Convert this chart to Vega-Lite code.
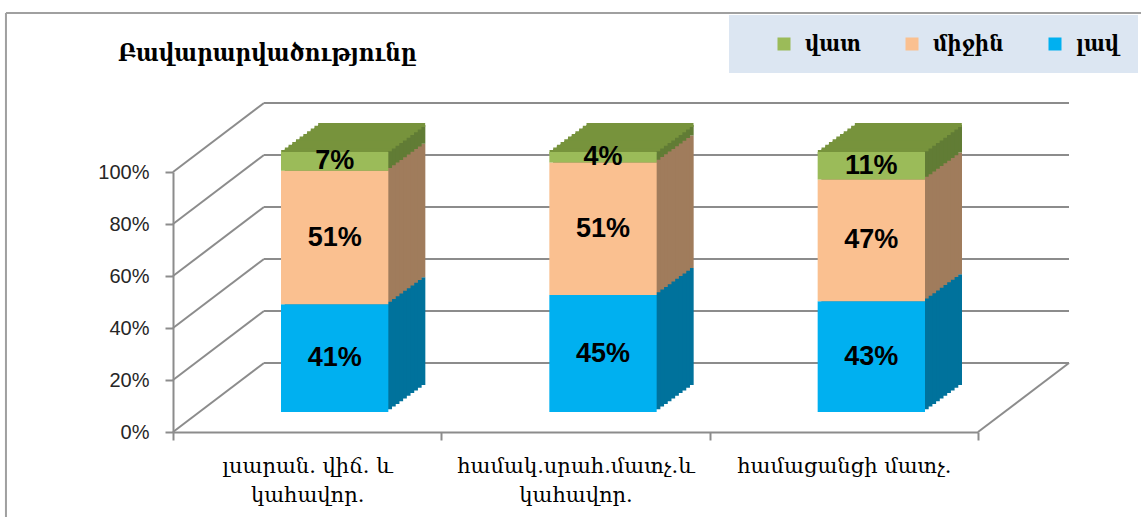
{
  "$schema": "https://vega.github.io/schema/vega-lite/v6.json",
  "width": 805,
  "height": 260,
  "autosize": {"type": "none"},
  "padding": {"left": 173, "top": 172, "right": 163, "bottom": 85},
  "background": "white",
  "config": {"view": {"stroke": null}, "axis": {"grid": false}},
  "datasets": {
    "main": [
      {"category": "լսարան. վիճ. և կահավոր.", "segment": "լավ", "value": 0.414},
      {"category": "լսարան. վիճ. և կահավոր.", "segment": "միջին", "value": 0.514},
      {"category": "լսարան. վիճ. և կահավոր.", "segment": "վատ", "value": 0.072},
      {"category": "համակ.սրահ.մատչ.և կահավոր.", "segment": "լավ", "value": 0.45},
      {"category": "համակ.սրահ.մատչ.և կահավոր.", "segment": "միջին", "value": 0.51},
      {"category": "համակ.սրահ.մատչ.և կահավոր.", "segment": "վատ", "value": 0.04},
      {"category": "համացանցի մատչ.", "segment": "լավ", "value": 0.426},
      {"category": "համացանցի մատչ.", "segment": "միջին", "value": 0.468},
      {"category": "համացանցի մատչ.", "segment": "վատ", "value": 0.106}
    ],
    "levels": [{"v": 0}, {"v": 0.2}, {"v": 0.4}, {"v": 0.6}, {"v": 0.8}, {"v": 1}]
  },
  "resolve": {"scale": {"x": "independent"}, "axis": {"x": "independent"}},
  "layer": [
    {
      "layer": [
        {
          "data": {"name": "levels"},
          "mark": {"type": "rule", "color": "#8c8c8c", "strokeWidth": 2, "xOffset": 91, "x2Offset": 91, "yOffset": -69},
          "encoding": {
            "x": {"datum": 0, "type": "quantitative", "scale": {"domain": [0, 1]}, "axis": null},
            "x2": {"datum": 1},
            "y": {"field": "v", "type": "quantitative"}
          }
        },
        {
          "data": {"name": "levels"},
          "mark": {"type": "rule", "color": "#8c8c8c", "strokeWidth": 2, "x2Offset": 91, "y2Offset": -69},
          "encoding": {
            "x": {"datum": 0, "type": "quantitative", "scale": {"domain": [0, 1]}, "axis": null},
            "x2": {"datum": 0},
            "y": {"field": "v", "type": "quantitative"},
            "y2": {"field": "v"}
          }
        },
        {
          "data": {"values": [{}]},
          "mark": {"type": "rule", "color": "#8c8c8c", "strokeWidth": 2, "x2Offset": 91, "y2Offset": -69},
          "encoding": {
            "x": {"datum": 1, "type": "quantitative", "scale": {"domain": [0, 1]}, "axis": null},
            "x2": {"datum": 1},
            "y": {"datum": 0, "type": "quantitative"},
            "y2": {"datum": 0}
          }
        },
        {
          "data": {"values": [{}]},
          "mark": {"type": "rule", "color": "#a0a0a0", "strokeWidth": 2},
          "encoding": {
            "x": {"datum": -0.2075, "type": "quantitative", "scale": {"domain": [0, 1]}, "axis": null},
            "y": {"datum": 1.6115, "type": "quantitative"},
            "y2": {"datum": -0.4}
          }
        },
        {
          "data": {"values": [{}]},
          "mark": {"type": "rule", "color": "#a0a0a0", "strokeWidth": 2},
          "encoding": {
            "x": {"datum": -0.2075, "type": "quantitative", "scale": {"domain": [0, 1]}, "axis": null},
            "x2": {"datum": 1.3},
            "y": {"datum": 1.6115, "type": "quantitative"}
          }
        },
        {
          "data": {"values": [{}]},
          "mark": {"type": "text", "text": "Բավարարվածությունը", "font": "DejaVu Serif Condensed, DejaVu Serif", "fontSize": 24, "fontWeight": "bold", "align": "left", "baseline": "alphabetic", "color": "#000000"},
          "encoding": {
            "x": {"datum": -0.0683, "type": "quantitative", "scale": {"domain": [0, 1]}, "axis": null},
            "y": {"datum": 1.427, "type": "quantitative"}
          }
        }
      ]
    },
    {
      "data": {"name": "main"},
      "layer": [
        {"mark": {"type": "bar", "width": {"band": 0.4}, "xOffset": 64.5, "yOffset": -47, "y2Offset": -47},
         "encoding": {"x": {"field": "category", "type": "nominal", "sort": null, "scale": {"paddingInner": 0, "paddingOuter": 0}},
           "y": {"field": "value", "type": "quantitative", "stack": "zero"},
           "detail": {"field": "segment"}, "order": {"field": "segment", "sort": "ascending"},
           "color": {"condition": [{"test": "datum.segment === 'լավ'", "value": "#00729C"}, {"test": "datum.segment === 'միջին'", "value": "#A07C5C"}], "value": "#617C35"}}},
        {"mark": {"type": "bar", "width": {"band": 0.4}, "xOffset": 60.8, "yOffset": -44.3, "y2Offset": -44.3},
         "encoding": {"x": {"field": "category", "type": "nominal", "sort": null},
           "y": {"field": "value", "type": "quantitative", "stack": "zero"},
           "detail": {"field": "segment"}, "order": {"field": "segment", "sort": "ascending"},
           "color": {"condition": [{"test": "datum.segment === 'լավ'", "value": "#00729C"}, {"test": "datum.segment === 'միջին'", "value": "#A07C5C"}], "value": "#617C35"}}},
        {"mark": {"type": "bar", "width": {"band": 0.4}, "xOffset": 57.1, "yOffset": -41.6, "y2Offset": -41.6},
         "encoding": {"x": {"field": "category", "type": "nominal", "sort": null},
           "y": {"field": "value", "type": "quantitative", "stack": "zero"},
           "detail": {"field": "segment"}, "order": {"field": "segment", "sort": "ascending"},
           "color": {"condition": [{"test": "datum.segment === 'լավ'", "value": "#00729C"}, {"test": "datum.segment === 'միջին'", "value": "#A07C5C"}], "value": "#617C35"}}},
        {"mark": {"type": "bar", "width": {"band": 0.4}, "xOffset": 53.4, "yOffset": -38.9, "y2Offset": -38.9},
         "encoding": {"x": {"field": "category", "type": "nominal", "sort": null},
           "y": {"field": "value", "type": "quantitative", "stack": "zero"},
           "detail": {"field": "segment"}, "order": {"field": "segment", "sort": "ascending"},
           "color": {"condition": [{"test": "datum.segment === 'լավ'", "value": "#00729C"}, {"test": "datum.segment === 'միջին'", "value": "#A07C5C"}], "value": "#617C35"}}},
        {"mark": {"type": "bar", "width": {"band": 0.4}, "xOffset": 49.7, "yOffset": -36.2, "y2Offset": -36.2},
         "encoding": {"x": {"field": "category", "type": "nominal", "sort": null},
           "y": {"field": "value", "type": "quantitative", "stack": "zero"},
           "detail": {"field": "segment"}, "order": {"field": "segment", "sort": "ascending"},
           "color": {"condition": [{"test": "datum.segment === 'լավ'", "value": "#00729C"}, {"test": "datum.segment === 'միջին'", "value": "#A07C5C"}], "value": "#617C35"}}},
        {"mark": {"type": "bar", "width": {"band": 0.4}, "xOffset": 46, "yOffset": -33.5, "y2Offset": -33.5},
         "encoding": {"x": {"field": "category", "type": "nominal", "sort": null},
           "y": {"field": "value", "type": "quantitative", "stack": "zero"},
           "detail": {"field": "segment"}, "order": {"field": "segment", "sort": "ascending"},
           "color": {"condition": [{"test": "datum.segment === 'լավ'", "value": "#00729C"}, {"test": "datum.segment === 'միջին'", "value": "#A07C5C"}], "value": "#617C35"}}},
        {"mark": {"type": "bar", "width": {"band": 0.4}, "xOffset": 42.3, "yOffset": -30.8, "y2Offset": -30.8},
         "encoding": {"x": {"field": "category", "type": "nominal", "sort": null},
           "y": {"field": "value", "type": "quantitative", "stack": "zero"},
           "detail": {"field": "segment"}, "order": {"field": "segment", "sort": "ascending"},
           "color": {"condition": [{"test": "datum.segment === 'լավ'", "value": "#00729C"}, {"test": "datum.segment === 'միջին'", "value": "#A07C5C"}], "value": "#617C35"}}},
        {"mark": {"type": "bar", "width": {"band": 0.4}, "xOffset": 38.6, "yOffset": -28.1, "y2Offset": -28.1},
         "encoding": {"x": {"field": "category", "type": "nominal", "sort": null},
           "y": {"field": "value", "type": "quantitative", "stack": "zero"},
           "detail": {"field": "segment"}, "order": {"field": "segment", "sort": "ascending"},
           "color": {"condition": [{"test": "datum.segment === 'լավ'", "value": "#00729C"}, {"test": "datum.segment === 'միջին'", "value": "#A07C5C"}], "value": "#617C35"}}},
        {"mark": {"type": "bar", "width": {"band": 0.4}, "xOffset": 34.9, "yOffset": -25.4, "y2Offset": -25.4},
         "encoding": {"x": {"field": "category", "type": "nominal", "sort": null},
           "y": {"field": "value", "type": "quantitative", "stack": "zero"},
           "detail": {"field": "segment"}, "order": {"field": "segment", "sort": "ascending"},
           "color": {"condition": [{"test": "datum.segment === 'լավ'", "value": "#00729C"}, {"test": "datum.segment === 'միջին'", "value": "#A07C5C"}], "value": "#617C35"}}},
        {"mark": {"type": "bar", "width": {"band": 0.4}, "xOffset": 31.2, "yOffset": -22.7, "y2Offset": -22.7},
         "encoding": {"x": {"field": "category", "type": "nominal", "sort": null},
           "y": {"field": "value", "type": "quantitative", "stack": "zero"},
           "detail": {"field": "segment"}, "order": {"field": "segment", "sort": "ascending"},
           "color": {"condition": [{"test": "datum.segment === 'լավ'", "value": "#00729C"}, {"test": "datum.segment === 'միջին'", "value": "#A07C5C"}], "value": "#617C35"}}},
        {"mark": {"type": "tick", "orient": "horizontal", "color": "#77933C", "opacity": 1, "thickness": 3.8, "size": 107, "xOffset": 27.5, "yOffset": -20},
         "encoding": {"x": {"field": "category", "type": "nominal", "sort": null}, "y": {"aggregate": "sum", "field": "value", "type": "quantitative"}}},
        {"mark": {"type": "tick", "orient": "horizontal", "color": "#77933C", "opacity": 1, "thickness": 3.8, "size": 107, "xOffset": 31.2, "yOffset": -22.7},
         "encoding": {"x": {"field": "category", "type": "nominal", "sort": null}, "y": {"aggregate": "sum", "field": "value", "type": "quantitative"}}},
        {"mark": {"type": "tick", "orient": "horizontal", "color": "#77933C", "opacity": 1, "thickness": 3.8, "size": 107, "xOffset": 34.9, "yOffset": -25.4},
         "encoding": {"x": {"field": "category", "type": "nominal", "sort": null}, "y": {"aggregate": "sum", "field": "value", "type": "quantitative"}}},
        {"mark": {"type": "tick", "orient": "horizontal", "color": "#77933C", "opacity": 1, "thickness": 3.8, "size": 107, "xOffset": 38.6, "yOffset": -28.1},
         "encoding": {"x": {"field": "category", "type": "nominal", "sort": null}, "y": {"aggregate": "sum", "field": "value", "type": "quantitative"}}},
        {"mark": {"type": "tick", "orient": "horizontal", "color": "#77933C", "opacity": 1, "thickness": 3.8, "size": 107, "xOffset": 42.3, "yOffset": -30.8},
         "encoding": {"x": {"field": "category", "type": "nominal", "sort": null}, "y": {"aggregate": "sum", "field": "value", "type": "quantitative"}}},
        {"mark": {"type": "tick", "orient": "horizontal", "color": "#77933C", "opacity": 1, "thickness": 3.8, "size": 107, "xOffset": 46, "yOffset": -33.5},
         "encoding": {"x": {"field": "category", "type": "nominal", "sort": null}, "y": {"aggregate": "sum", "field": "value", "type": "quantitative"}}},
        {"mark": {"type": "tick", "orient": "horizontal", "color": "#77933C", "opacity": 1, "thickness": 3.8, "size": 107, "xOffset": 49.7, "yOffset": -36.2},
         "encoding": {"x": {"field": "category", "type": "nominal", "sort": null}, "y": {"aggregate": "sum", "field": "value", "type": "quantitative"}}},
        {"mark": {"type": "tick", "orient": "horizontal", "color": "#77933C", "opacity": 1, "thickness": 3.8, "size": 107, "xOffset": 53.4, "yOffset": -38.9},
         "encoding": {"x": {"field": "category", "type": "nominal", "sort": null}, "y": {"aggregate": "sum", "field": "value", "type": "quantitative"}}},
        {"mark": {"type": "tick", "orient": "horizontal", "color": "#77933C", "opacity": 1, "thickness": 3.8, "size": 107, "xOffset": 57.1, "yOffset": -41.6},
         "encoding": {"x": {"field": "category", "type": "nominal", "sort": null}, "y": {"aggregate": "sum", "field": "value", "type": "quantitative"}}},
        {"mark": {"type": "tick", "orient": "horizontal", "color": "#77933C", "opacity": 1, "thickness": 3.8, "size": 107, "xOffset": 60.8, "yOffset": -44.3},
         "encoding": {"x": {"field": "category", "type": "nominal", "sort": null}, "y": {"aggregate": "sum", "field": "value", "type": "quantitative"}}},
        {"mark": {"type": "tick", "orient": "horizontal", "color": "#77933C", "opacity": 1, "thickness": 3.8, "size": 107, "xOffset": 64.5, "yOffset": -47},
         "encoding": {"x": {"field": "category", "type": "nominal", "sort": null}, "y": {"aggregate": "sum", "field": "value", "type": "quantitative"}}},
        {
          "mark": {"type": "bar", "width": {"band": 0.4}, "xOffset": 27.5, "yOffset": -20, "y2Offset": -20},
          "encoding": {
            "x": {"field": "category", "type": "nominal", "sort": null, "scale": {"paddingInner": 0, "paddingOuter": 0},
              "axis": {"title": null, "labelAngle": 0, "labelAlign": "center", "labelBaseline": "top", "tickBand": "extent", "domainColor": "#8c8c8c", "domainWidth": 2, "tickColor": "#8c8c8c", "tickWidth": 2, "tickSize": 8,
                "labelFont": "DejaVu Serif", "labelFontSize": 21, "labelColor": "#000000", "labelLineHeight": 29, "labelPadding": 15, "labelLimit": 400,
                "labelExpr": "datum.value == 'լսարան. վիճ. և կահավոր.' ? ['լսարան. վիճ. և', 'կահավոր.'] : datum.value == 'համակ.սրահ.մատչ.և կահավոր.' ? ['համակ.սրահ.մատչ.և', 'կահավոր.'] : datum.label"}},
            "y": {"field": "value", "type": "quantitative", "stack": "zero", "scale": {"domain": [0, 1]},
              "axis": {"title": null, "values": [0, 0.2, 0.4, 0.6, 0.8, 1], "format": ".0%", "domainColor": "#8c8c8c", "domainWidth": 2, "tickColor": "#8c8c8c", "tickWidth": 2, "tickSize": 8,
                "labelFont": "Liberation Sans", "labelFontSize": 20, "labelColor": "#262626", "labelPadding": 16}},
            "order": {"field": "segment", "sort": "ascending"},
            "color": {"field": "segment", "type": "nominal",
              "scale": {"domain": ["վատ", "միջին", "լավ"], "range": ["#9BBB59", "#FAC090", "#00B0F0"]},
              "legend": {"orient": "none", "legendX": 556, "legendY": -157, "direction": "horizontal", "title": "\u00a0", "titleOrient": "left", "titleFontSize": 1, "titlePadding": 26, "fillColor": "#DCE6F2", "padding": 18,
                "symbolType": "square", "symbolSize": 169, "symbolStrokeWidth": 0, "symbolOpacity": 1,
                "labelFont": "DejaVu Serif Condensed, DejaVu Serif", "labelFontWeight": "bold", "labelFontSize": 22, "labelColor": "#000000", "labelOffset": 10, "columnPadding": 40, "labelLimit": 300}}
          }
        },
        {
          "mark": {"type": "text", "font": "Liberation Sans", "fontWeight": "bold", "fontSize": 27, "color": "#000000", "xOffset": 27.5, "yOffset": -20, "baseline": "middle", "align": "center"},
          "encoding": {
            "x": {"field": "category", "type": "nominal", "sort": null},
            "y": {"field": "value", "type": "quantitative", "stack": "zero", "bandPosition": 0.5},
            "detail": {"field": "segment"},
            "order": {"field": "segment", "sort": "ascending"},
            "text": {"field": "value", "type": "quantitative", "format": ".0%"}
          }
        }
      ]
    }
  ]
}
